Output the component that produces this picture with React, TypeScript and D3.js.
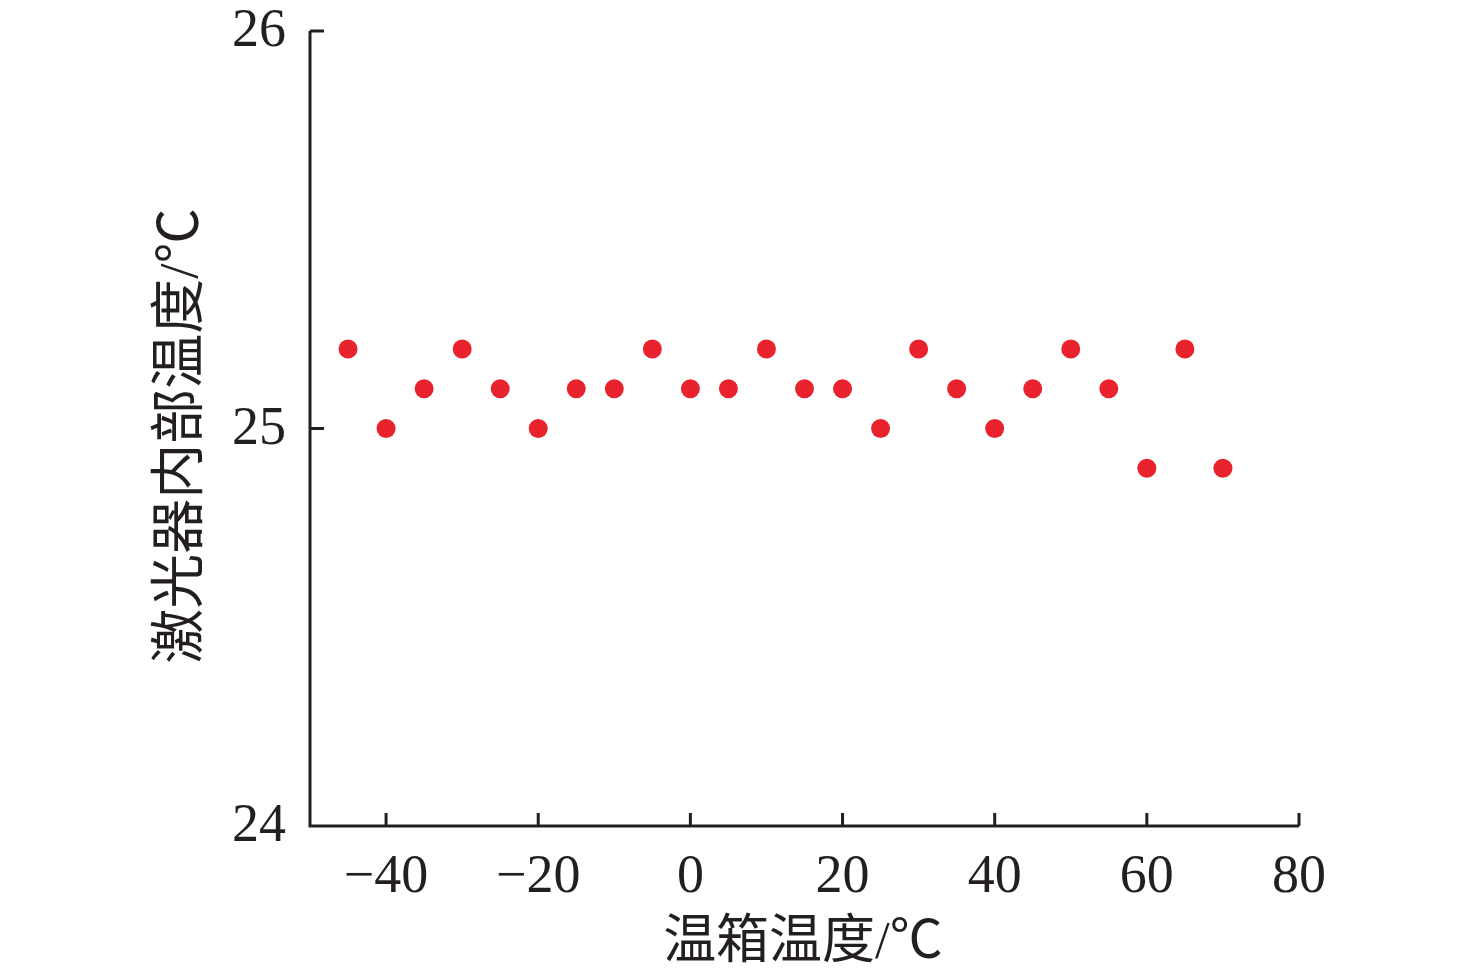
import React from "react";
import * as d3 from "d3";

const xValues = [-45, -40, -35, -30, -25, -20, -15, -10, -5, 0, 5, 10, 15, 20, 25, 30, 35, 40, 45, 50, 55, 60, 65, 70];
const yValues = [25.2, 25.0, 25.1, 25.2, 25.1, 25.0, 25.1, 25.1, 25.2, 25.1, 25.1, 25.2, 25.1, 25.1, 25.0, 25.2, 25.1, 25.0, 25.1, 25.2, 25.1, 24.9, 25.2, 24.9];
const xTicks = [-40, -20, 0, 20, 40, 60, 80];
const yTicks = [24, 25, 26];
const xTitle = "温箱温度/℃";
const yTitle = "激光器内部温度/℃";

const W = 1476;
const H = 974;
const left = 310;
const right = 1299;
const top = 31;
const bottom = 826;
const font = "'Liberation Serif', 'Times New Roman', 'Noto Sans CJK SC', serif";
const cjkFont = "'Liberation Serif', 'Noto Sans CJK SC', serif";

export default function App() {
  const x = d3.scaleLinear().domain([-50, 80]).range([left, right]);
  const y = d3.scaleLinear().domain([24, 26]).range([bottom, top]);
  const pts = xValues.map((v, i) => ({ x: v, y: yValues[i] }));
  return (
    <svg width={W} height={H} style={{ position: "absolute", left: 0, top: 0, background: "#fff" }}>
      <g stroke="#231f20" strokeWidth={3} fill="none">
        <path d={`M${left},${top}H${left}V${bottom}H${right}`} />
        {yTicks.filter((t) => t !== 24).map((t) => (
          <line key={t} x1={left} x2={left + 14} y1={y(t)} y2={y(t)} />
        ))}
        {xTicks.map((t) => (
          <line key={t} x1={x(t)} x2={x(t)} y1={bottom} y2={bottom - 13} />
        ))}
      </g>
      <g fontFamily={font} fontSize={54} fill="#231f20">
        {yTicks.map((t) => (
          <text key={t} x={286} y={y(t) + 15} textAnchor="end">{t}</text>
        ))}
        {xTicks.map((t) => (
          <text key={t} x={x(t)} y={892} textAnchor="middle">{t < 0 ? "\u2212" + Math.abs(t) : String(t)}</text>
        ))}
      </g>
      <g fill="#e8232d">
        {pts.map((p, i) => (
          <circle key={i} cx={x(p.x)} cy={y(p.y)} r={9.5} />
        ))}
      </g>
      <text x={803} y={958} textAnchor="middle" fontFamily={cjkFont} fontSize={53} fill="#231f20">{xTitle}</text>
      <text transform={`translate(197,436) rotate(-90)`} textAnchor="middle" fontFamily={cjkFont} fontSize={55} fill="#231f20">{yTitle}</text>
    </svg>
  );
}
